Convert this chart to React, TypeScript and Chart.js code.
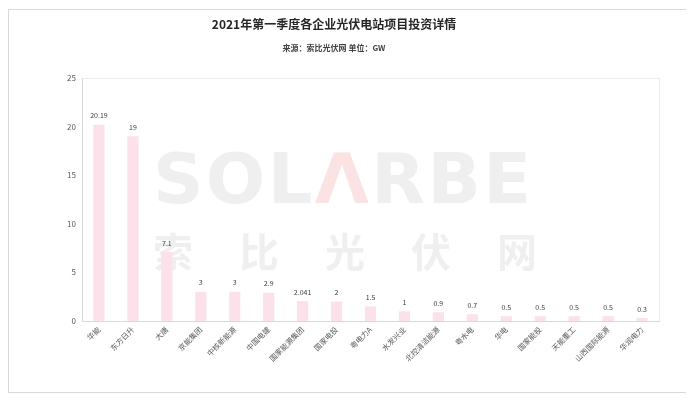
import React, { useEffect, useRef } from "react";
import { Chart, registerables } from "chart.js";

Chart.register(...registerables);

const categories = [
  "华能", "东方日升", "大唐", "京能集团", "中核新能源", "中国电建", "国家能源集团", "国家电投",
  "粤电力A", "水发兴业", "北控清洁能源", "粤水电", "华电", "国家能投", "天能重工", "山西国际能源", "华润电力",
];
const values = [20.19, 19, 7.1, 3, 3, 2.9, 2.041, 2, 1.5, 1, 0.9, 0.7, 0.5, 0.5, 0.5, 0.5, 0.3];
const yTicks = [0, 5, 10, 15, 20, 25];
const titleText = "2021年第一季度各企业光伏电站项目投资详情";
const subtitleText = "来源：索比光伏网 单位：GW";

const CJK = "'Noto Sans CJK SC', 'Noto Sans', sans-serif";

const watermark = {
  id: "watermark",
  beforeDatasetsDraw(chart: any) {
    const ctx = chart.ctx;
    const { left } = chart.chartArea;
    ctx.save();
    const letters = ["S", "O", "L", "Λ", "R", "B", "E"];
    ctx.font = "bold 70px 'DejaVu Sans', sans-serif";
    ctx.textBaseline = "alphabetic";
    ctx.textAlign = "left";
    const widths = letters.map((l) => ctx.measureText(l).width);
    const total = widths.reduce((a, b) => a + b, 0);
    const targetW = 378;
    const gap = (targetW - total) / (letters.length - 1);
    let x = left + 71;
    const baseY = 193;
    letters.forEach((l, i) => {
      ctx.fillStyle = l === "Λ" ? "rgba(250,218,218,0.75)" : "rgba(228,228,228,0.6)";
      ctx.fillText(l, x, baseY);
      x += widths[i] + gap;
    });
    const chars = ["索", "比", "光", "伏", "网"];
    ctx.font = "bold 40px " + CJK;
    ctx.textAlign = "center";
    ctx.textBaseline = "middle";
    ctx.fillStyle = "rgba(228,228,228,0.6)";
    chars.forEach((c, i) => {
      ctx.fillText(c, left + 91 + i * 86, 242);
    });
    ctx.restore();
  },
};

const frame = {
  id: "frame",
  beforeDraw(chart: any) {
    const ctx = chart.ctx;
    const { left, right, top, bottom } = chart.chartArea;
    ctx.save();
    ctx.strokeStyle = "#ebebeb";
    ctx.lineWidth = 1;
    ctx.strokeRect(left + 0.5, top + 0.5, right - left, bottom - top);
    ctx.restore();
  },
};

const dataLabels = {
  id: "dataLabels",
  afterDatasetsDraw(chart: any) {
    const ctx = chart.ctx;
    const meta = chart.getDatasetMeta(0);
    ctx.save();
    ctx.font = "7px " + CJK;
    ctx.fillStyle = "#404040";
    ctx.textAlign = "center";
    ctx.textBaseline = "middle";
    meta.data.forEach((bar: any, i: number) => {
      ctx.fillText(String(values[i]), bar.x, bar.y - 9);
    });
    ctx.restore();
  },
};

export default function App() {
  const ref = useRef<HTMLCanvasElement>(null);
  useEffect(() => {
    if (!ref.current) return;
    const chart = new Chart(ref.current, {
      type: "bar",
      data: {
        labels: categories,
        datasets: [
          {
            data: values,
            backgroundColor: "#fce1ea",
            borderWidth: 0,
            barPercentage: 0.33,
            categoryPercentage: 1,
          },
        ],
      },
      options: {
        responsive: false,
        animation: false,
        layout: { padding: { left: 0, right: 28, top: 0, bottom: 0 } },
        plugins: {
          legend: { display: false },
          tooltip: { enabled: false },
          title: {
            display: true,
            text: titleText,
            color: "#262626",
            font: { family: CJK, size: 12, weight: "bold" },
            padding: { top: 7, bottom: 12 },
          },
          subtitle: {
            display: true,
            text: subtitleText,
            color: "#404040",
            font: { family: CJK, size: 8, weight: "bold" },
            padding: { top: 0, bottom: 25 },
          },
        },
        scales: {
          x: {
            grid: { display: false, drawTicks: false },
            border: { display: true, color: "#d9d9d9" },
            ticks: {
              color: "#595959",
              font: { family: CJK, size: 7.5 },
              minRotation: 45,
              maxRotation: 45,
              autoSkip: false,
              padding: 4,
            },
            afterFit: (s: any) => {
              s.height = 71;
            },
          },
          y: {
            min: 0,
            max: 25,
            afterBuildTicks: (s: any) => {
              s.ticks = yTicks.map((v) => ({ value: v }));
            },
            grid: { display: false, drawTicks: false },
            border: { display: true, color: "#d9d9d9" },
            ticks: {
              color: "#595959",
              font: { family: CJK, size: 8 },
              padding: 6,
            },
            afterFit: (s: any) => {
              s.width = 73;
            },
          },
        },
      },
      plugins: [frame, watermark, dataLabels],
    });
    return () => chart.destroy();
  }, []);
  return (
    <div
      style={{
        width: 678,
        height: 382,
        border: "1px solid #d9d9d9",
        marginTop: 1,
        background: "#fff",
      }}
    >
      <canvas ref={ref} width={678} height={382} />
    </div>
  );
}
